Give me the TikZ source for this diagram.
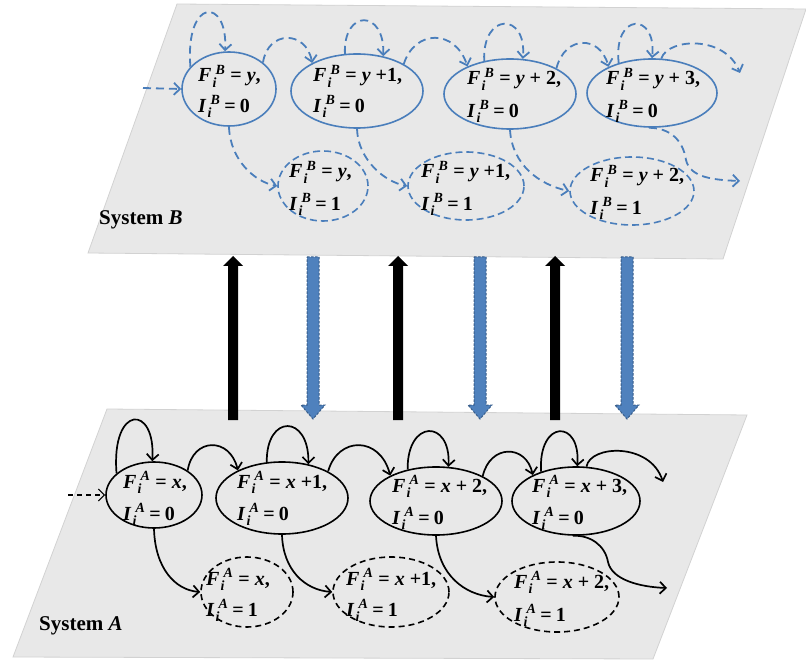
\documentclass[tikz,border=0pt]{standalone}
\usepackage{fontspec}
\setmainfont{Liberation Serif}
\usepackage{amsmath}
\usetikzlibrary{arrows.meta,shapes.geometric}
\definecolor{planefill}{HTML}{E8E8E8}
\definecolor{planeedge}{HTML}{D2D2D2}
\definecolor{bline}{HTML}{4A7EBB}
\definecolor{bfill}{HTML}{4F81BD}
\definecolor{bedge}{HTML}{385D8A}
\newcommand{\bi}[1]{\textbf{\textit{#1}}}
\newcommand{\ssup}[2]{\kern1pt$_{\bi{#1}}^{\kern3pt\bi{#2}}$}
\newcommand{\Fl}[2]{\bi{F}\ssup{i}{#1}\hspace{5pt}=\hspace{5pt}#2}
\newcommand{\Il}[2]{\bi{I}\ssup{i}{#1}\hspace{4pt}=\hspace{4pt}#2}
\newcommand{\two}[3]{\begin{tabular}[t]{@{}l@{}}#1\\[#3]#2\end{tabular}}
\begin{document}
\begin{tikzpicture}[x=1pt,y=-1pt,
  plane/.style={fill=planefill, draw=planeedge, line width=0.8pt},
  stB/.style={ellipse, draw=bline, line width=1.6pt, inner sep=0pt},
  stBd/.style={stB, dash pattern=on 7pt off 4pt},
  stA/.style={ellipse, draw=black, line width=1.6pt, inner sep=0pt},
  stAd/.style={stA, dash pattern=on 6pt off 4pt},
  txt/.style={anchor=base west, inner sep=0pt, font=\fontsize{20}{22}\selectfont\bfseries},
  lbl/.style={anchor=base west, inner sep=0pt, font=\fontsize{21}{24}\selectfont\bfseries},
  arB/.style={draw=bline, line width=1.8pt, dash pattern=on 8pt off 5pt, -{Straight Barb[length=6pt,width=12pt]}},
  arA/.style={draw=black, line width=1.7pt, -{Straight Barb[length=6pt,width=12pt]}},
  arAd/.style={arA, line width=1.2pt, dash pattern=on 5pt off 4pt},
  uparrow/.style={fill=black},
  dnarrow/.style={fill=bfill, draw=bedge, line width=1pt, dash pattern=on 2.5pt off 1.5pt}
]
\useasboundingbox (0,0) rectangle (806,660);
% planes
\path[plane] (177,4) -- (806,9) -- (723,259) -- (88,253) -- cycle;
\path[plane] (107,409) -- (747,415) -- (653,659) -- (13,657) -- cycle;

% block arrows between systems
\foreach \x in {233,398,555}{
  \path[uparrow] (\x-5,420) -- (\x-5,266) -- (\x-10,266) -- (\x,256) -- (\x+10,266) -- (\x+5,266) -- (\x+5,420) -- cycle;
}
\foreach \x in {313,480,627}{
  \path[dnarrow] (\x-6,257) -- (\x+6,257) -- (\x+6,405) -- (\x+12,405) -- (\x,419) -- (\x-12,405) -- (\x-6,405) -- cycle;
}

% System B states
\node[stB, minimum width=94pt, minimum height=74pt] (b1) at (229,89) {};
\node[stB, minimum width=132pt, minimum height=74pt] (b2) at (357,91) {};
\node[stB, minimum width=132pt, minimum height=70pt] (b3) at (510,94) {};
\node[stB, minimum width=130pt, minimum height=68pt] (b4) at (652,93) {};
\node[stBd, minimum width=90pt, minimum height=70pt] (b1d) at (323,186) {};
\node[stBd, minimum width=116pt, minimum height=68pt] (b2d) at (466,186) {};
\node[stBd, minimum width=124pt, minimum height=68pt] (b3d) at (632,191) {};

\node[txt] (b1t) at (198,82) {\two{\Fl{B}{\bi{y},}}{\Il{B}{0}}{7pt}};
\node[txt] (b2t) at (313,82) {\two{\Fl{B}{\bi{y} +1,}}{\Il{B}{0}}{7pt}};
\node[txt] (b3t) at (467,85) {\two{\Fl{B}{\bi{y} + 2,}}{\Il{B}{0}}{9pt}};
\node[txt] (b4t) at (606,85) {\two{\Fl{B}{\bi{y} + 3,}}{\Il{B}{0}}{9pt}};
\node[txt] (b1dt) at (289,178) {\two{\Fl{B}{\bi{y},}}{\Il{B}{1}}{9pt}};
\node[txt] (b2dt) at (421,178) {\two{\Fl{B}{\bi{y} +1,}}{\Il{B}{1}}{9pt}};
\node[txt] (b3dt) at (590,182) {\two{\Fl{B}{\bi{y} + 2,}}{\Il{B}{1}}{9pt}};
\node[lbl] (sysb) at (99,225) {System \textit{B}};

% System B connectors
\coordinate (bin) at (143,88);
\coordinate (bout1) at (740,73);
\coordinate (bout2) at (740,181);
\draw[arB] (bin) -- (b1.west);
\draw[arB] (b1.150) .. controls (185,-3) and (228,-3) .. (b1.96);
\draw[arB] (b1.38) .. controls (268,30) and (306,30) .. (b2.148);
\draw[arB] (b2.108) .. controls (343,9) and (385,9) .. (b2.53);
\draw[arB] (b2.30) .. controls (415,29) and (455,29) .. (b3.147);
\draw[arB] (b3.128) .. controls (482,12) and (527,12) .. (b3.70);
\draw[arB] (b3.29) .. controls (565,35) and (600,35) .. (b4.149);
\draw[arB] (b4.138) .. controls (613,12) and (657,12) .. (b4.90);
\draw[arB] (b4.75) .. controls (668,38) and (725,35) .. (bout1);
\draw[arB] (b1.south) .. controls (230,160) and (255,182) .. (b1d.west);
\draw[arB] (b2.south) .. controls (358,160) and (385,182) .. (b2d.west);
\draw[arB] (b3.south) .. controls (512,165) and (540,185) .. (b3d.west);
\draw[arB] (b4.265) .. controls (670,128) and (683,140) .. (686,160) .. controls (690,178) and (715,180) .. (bout2);

% System A states
\node[stA, minimum width=96pt, minimum height=66pt] (a1) at (154,495) {};
\node[stA, minimum width=132pt, minimum height=72pt] (a2) at (282,498) {};
\node[stA, minimum width=132pt, minimum height=68pt] (a3) at (436,501) {};
\node[stA, minimum width=128pt, minimum height=68pt] (a4) at (576,501) {};
\node[stAd, minimum width=92pt, minimum height=70pt] (a1d) at (247,592) {};
\node[stAd, minimum width=116pt, minimum height=70pt] (a2d) at (391,592) {};
\node[stAd, minimum width=124pt, minimum height=70pt] (a3d) at (557,597) {};

\node[txt] (a1t) at (123,488) {\two{\Fl{A}{\bi{x},}}{\Il{A}{0}}{9pt}};
\node[txt] (a2t) at (237,488) {\two{\Fl{A}{\bi{x} +1,}}{\Il{A}{0}}{9pt}};
\node[txt] (a3t) at (392,492) {\two{\Fl{A}{\bi{x} + 2,}}{\Il{A}{0}}{9pt}};
\node[txt] (a4t) at (532,492) {\two{\Fl{A}{\bi{x} + 3,}}{\Il{A}{0}}{9pt}};
\node[txt] (a1dt) at (206,585) {\two{\Fl{A}{\bi{x},}}{\Il{A}{1}}{8pt}};
\node[txt] (a2dt) at (346,585) {\two{\Fl{A}{\bi{x} +1,}}{\Il{A}{1}}{8pt}};
\node[txt] (a3dt) at (514,588) {\two{\Fl{A}{\bi{x} + 2,}}{\Il{A}{1}}{10pt}};
\node[lbl] (sysa) at (39,630) {System \textit{A}};

% System A connectors
\coordinate (ain) at (68,495);
\coordinate (aout1) at (663,482);
\coordinate (aout2) at (667,588);
\draw[arAd] (ain) -- (a1.west);
\draw[arA] (a1.150) .. controls (111,404) and (156,404) .. (a1.93);
\draw[arA] (a1.36) .. controls (193,437) and (230,437) .. (a2.148);
\draw[arA] (a2.113) .. controls (266,414) and (309,414) .. (a2.52);
\draw[arA] (a2.30) .. controls (338,436) and (380,436) .. (a3.151);
\draw[arA] (a3.132) .. controls (407,419) and (451,419) .. (a3.70);
\draw[arA] (a3.28) .. controls (490,444) and (526,444) .. (a4.149);
\draw[arA] (a4.140) .. controls (538,419) and (581,419) .. (a4.88);
\draw[arA] (a4.73) .. controls (590,445) and (650,442) .. (aout1);
\draw[arA] (a1.south) .. controls (155,568) and (175,590) .. (a1d.west);
\draw[arA] (a2.south) .. controls (283,570) and (305,590) .. (a2d.west);
\draw[arA] (a3.south) .. controls (438,575) and (465,595) .. (a3d.west);
\draw[arA] (a4.265) .. controls (590,535) and (605,545) .. (608,562) .. controls (612,580) and (640,587) .. (aout2);
\end{tikzpicture}
\end{document}
